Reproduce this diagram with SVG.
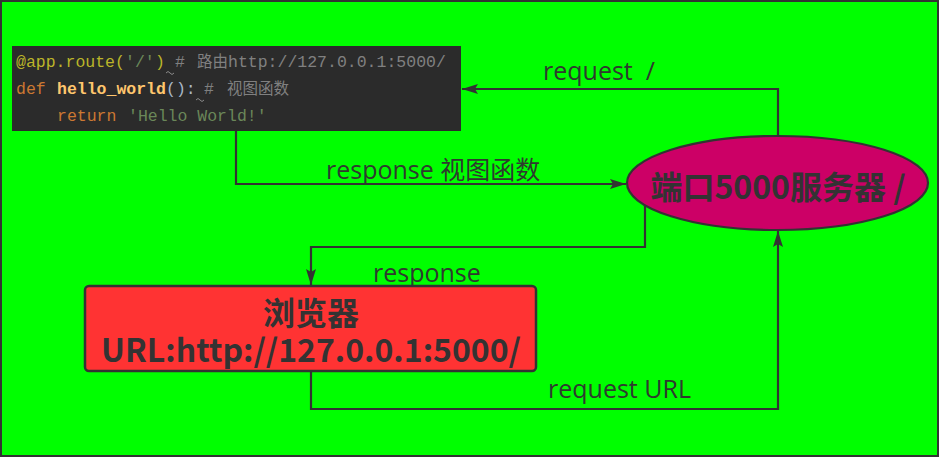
<svg xmlns="http://www.w3.org/2000/svg" width="939" height="457" viewBox="0 0 939 457">
<style>
.code{font-family:"Liberation Mono",monospace;font-size:16.5px}
.cjk{font-family:"Noto Sans CJK SC",sans-serif;font-size:15.5px}
.lbl{font-family:"Open Sans","Noto Sans CJK SC",sans-serif;font-size:25px;fill:#2f3a2f}
.node{font-family:"Noto Sans CJK SC",sans-serif;font-weight:bold;fill:#333}
.conn{fill:none;stroke:#333;stroke-width:2.2}
</style>
<defs>
<marker id="arr" viewBox="0 0 16 10" refX="16" refY="5" markerWidth="16" markerHeight="10" markerUnits="userSpaceOnUse" orient="auto">
<path d="M0,0 L16,5 L0,10 L3,5 Z" fill="#333"/>
</marker>
</defs>
<rect x="1" y="1" width="937" height="455" fill="#00ff00" stroke="#333" stroke-width="2"/>

<g id="connectors">
<path class="conn" d="M236,131 V184 H626" marker-end="url(#arr)"/>
<path class="conn" d="M778,137 V89 H462" marker-end="url(#arr)"/>
<path class="conn" d="M645,205 V247 H311 V285" marker-end="url(#arr)"/>
<path class="conn" d="M311,371 V409 H778 V231" marker-end="url(#arr)"/>
<text class="lbl" x="326" y="179">response 视图函数</text>
<text class="lbl" x="543" y="80" xml:space="preserve">request  /</text>
<text class="lbl" x="373" y="282">response</text>
<text class="lbl" x="548" y="398">request URL</text>
</g>

<g id="code">
<rect x="12" y="46" width="449" height="85" fill="#2b2b2b"/>
<text class="code" y="67"><tspan x="16" fill="#bbb529">@app.route(</tspan><tspan x="125" fill="#6a8759">'/'</tspan><tspan x="155" fill="#bbb529">)</tspan><tspan x="175" fill="#808080">#</tspan></text>
<text class="cjk" x="197" y="67" fill="#808080">路由</text>
<text class="code" x="228" y="67" fill="#808080">http://127.0.0.1:5000/</text>
<text class="code" y="94"><tspan x="16" fill="#cc7832">def</tspan><tspan x="57" fill="#ffc66d" font-weight="bold">hello_world</tspan><tspan x="166" fill="#a9b7c6">():</tspan><tspan x="204" fill="#808080">#</tspan></text>
<text class="cjk" x="227" y="94" fill="#808080">视图函数</text>
<text class="code" y="121"><tspan x="57" fill="#cc7832">return</tspan><tspan x="128" fill="#6a8759">'Hello World!'</tspan></text>
<path d="M166,73 q2,-3 4,0 q2,3 4,0 M196,100 q2,-3 4,0 q2,3 4,0" fill="none" stroke="#8a8a8a" stroke-width="1"/>
</g>

<g id="server">
<ellipse cx="777.5" cy="183" rx="150.5" ry="47" fill="#cc0066" stroke="#333" stroke-width="2.2"/>
<text class="node" x="778" y="199" font-size="32" text-anchor="middle">端口5000服务器 /</text>
</g>

<g id="browser">
<rect x="85" y="286" width="451" height="85" rx="4" fill="#ff3333" stroke="#333" stroke-width="2.5"/>
<text class="node" x="311" y="325" font-size="32" text-anchor="middle">浏览器</text>
<text class="node" x="311" y="362" font-size="32" text-anchor="middle">URL:http://127.0.0.1:5000/</text>
</g>
</svg>
